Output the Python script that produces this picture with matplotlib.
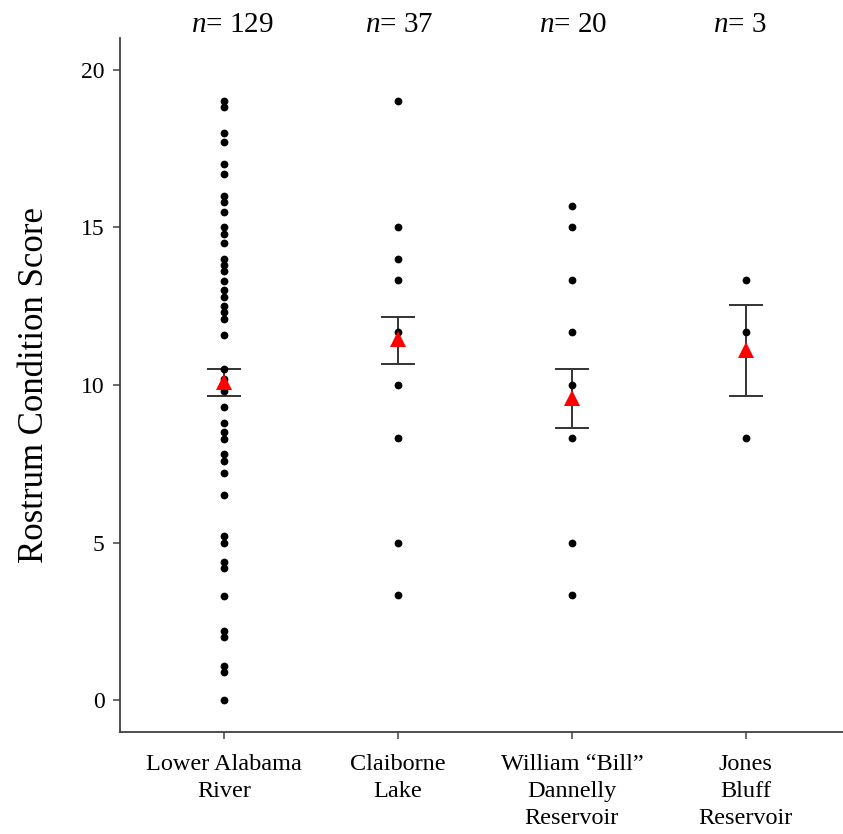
import matplotlib
matplotlib.use('Agg')
import matplotlib.pyplot as plt

# ── Datos ──
sitios = ['Lower Alabama\nRiver', 'Claiborne\nLake',
          'William \u201cBill\u201d\nDannelly\nReservoir', 'Jones\nBluff\nReservoir']
n_tamanos = [129, 37, 20, 3]

puntos_alabama = [19.0, 18.8, 18.0, 17.7, 17.0, 16.7, 16.0, 15.8, 15.5, 15.0,
                  14.8, 14.5, 14.0, 13.8, 13.6, 13.3, 13.0, 12.8, 12.5, 12.3,
                  12.1, 11.6, 10.5, 10.2, 10.0, 9.8, 9.3, 8.8, 8.5, 8.3, 7.8,
                  7.6, 7.2, 6.5, 5.2, 5.0, 4.4, 4.2, 3.3, 2.2, 2.0, 1.1, 0.9, 0.0]
puntos_claiborne = [19.0, 15.0, 14.0, 13.33, 11.67, 10.0, 8.33, 5.0, 3.33]
puntos_dannelly = [15.67, 15.0, 13.33, 11.67, 10.0, 8.33, 5.0, 3.33]
puntos_jones = [13.33, 11.67, 8.33]

medias = [10.1, 11.45, 9.6, 11.11]
err_sup = [10.52, 12.15, 10.5, 12.55]
err_inf = [9.65, 10.68, 8.65, 9.65]

COLOR_EJE = '#404040'

plt.rcParams.update({
    'font.family': 'serif',
    'font.serif': ['Liberation Serif', 'DejaVu Serif'],
    'mathtext.fontset': 'custom',
    'mathtext.it': 'Liberation Serif:italic',
    'mathtext.rm': 'Liberation Serif',
})

fig = plt.figure(figsize=(8.43, 8.34), dpi=100)
ax = fig.add_axes([120 / 843, 102 / 834, 723 / 843, 694 / 834])

grupos = [puntos_alabama, puntos_claiborne, puntos_dannelly, puntos_jones]
posiciones = list(range(len(sitios)))

# Barras de error (media ± EE)
for i in posiciones:
    ax.errorbar(i, medias[i],
                yerr=[[medias[i] - err_inf[i]], [err_sup[i] - medias[i]]],
                fmt='none', ecolor='#333333', elinewidth=1.4,
                capsize=12, capthick=1.4, zorder=2)

# Puntos individuales
for i, vals in zip(posiciones, grupos):
    ax.plot([i] * len(vals), vals, 'o', color='black', markersize=5.6,
            markeredgewidth=0, zorder=3)

# Media (triángulo rojo)
ax.plot(posiciones, medias, '^', color='#FF0000', markersize=12,
        markeredgewidth=0, linestyle='none', zorder=4)

# Tamaño de muestra arriba
for i, n in zip(posiciones, n_tamanos):
    ax.text(i - 0.19, 1.0, f'$n$= {n}', transform=ax.get_xaxis_transform(),
            fontsize=21, ha='left', va='bottom', clip_on=False)

ax.set_xlim(-0.6, 3.56)
ax.set_ylim(-1, 21)
ax.set_xticks(posiciones)
ax.set_xticklabels(sitios, fontsize=17.5, linespacing=1.38)
ax.set_yticks([0, 5, 10, 15, 20])
ax.tick_params(axis='y', labelsize=17, length=5, width=1.1, pad=6,
               color=COLOR_EJE)
ax.tick_params(axis='x', length=5, width=1.1, pad=11, color=COLOR_EJE)
ax.set_ylabel('Rostrum Condition Score', fontsize=25, labelpad=22)

for lado in ['top', 'right']:
    ax.spines[lado].set_visible(False)
for lado in ['left', 'bottom']:
    ax.spines[lado].set_color(COLOR_EJE)
    ax.spines[lado].set_linewidth(1.3)

fig.savefig('out.png', dpi=100, facecolor='white')
plt.close()
